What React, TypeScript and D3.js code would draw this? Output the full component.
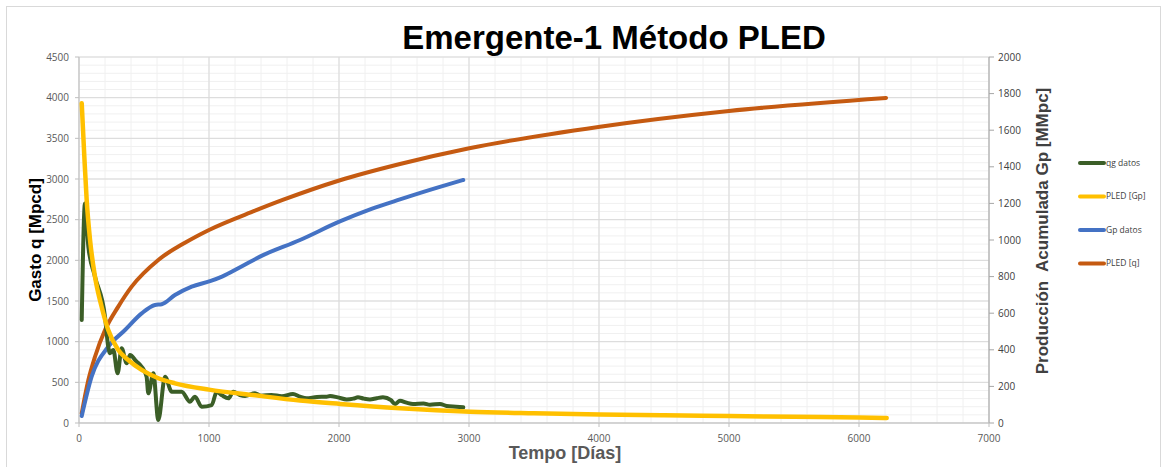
import React from "react";
import * as d3 from "d3";

const W = 1166, H = 467;
const M = { left: 79, right: 989, top: 57, bottom: 423 };

const xTicks = [0, 1000, 2000, 3000, 4000, 5000, 6000, 7000];
const yLeftTicks = [0, 500, 1000, 1500, 2000, 2500, 3000, 3500, 4000, 4500];
const yRightTicks = [0, 200, 400, 600, 800, 1000, 1200, 1400, 1600, 1800, 2000];

// qg datos (left axis, Mpcd)
const qgDays = [21, 46, 72, 123, 200, 225, 238, 264, 297, 328, 367, 392, 440, 482, 520, 533, 572, 610, 662, 713, 790, 854, 892, 944, 1021, 1059, 1100, 1149, 1187, 1238, 1277, 1354, 1400, 1480, 1560, 1646, 1700, 1751, 1830, 1905, 1931, 1990, 2059, 2110, 2146, 2190, 2238, 2290, 2338, 2400, 2431, 2469, 2520, 2569, 2650, 2700, 2777, 2828, 2900, 2956];
const qgVals = [1266, 2700, 2168, 1799, 1307, 938, 857, 897, 611, 918, 734, 836, 760, 692, 569, 365, 611, 37, 569, 385, 385, 262, 323, 200, 221, 385, 340, 303, 385, 344, 332, 365, 335, 345, 330, 356, 323, 303, 320, 323, 332, 315, 290, 300, 316, 300, 290, 305, 316, 280, 234, 274, 250, 234, 240, 225, 234, 209, 200, 193];

// PLED curve on left axis (yellow)
const pledQDays = [21, 41, 59, 85, 123, 174, 225, 302, 379, 482, 610, 738, 1000, 1354, 1700, 2008, 2469, 3008, 3500, 4008, 4500, 5000, 5500, 6000, 6213];
const pledQVals = [3930, 3275, 2742, 2250, 1800, 1430, 1143, 897, 775, 652, 550, 488, 410, 340, 276, 235, 182, 139, 120, 106, 95, 85, 76, 68, 62];

// Gp datos (right axis, MMpc)
const gpDays = [21, 97, 225, 354, 482, 585, 636, 738, 867, 1008, 1100, 1250, 1392, 1700, 2002, 2250, 2469, 2750, 2956];
const gpVals = [38, 253, 417, 508, 599, 645, 649, 699, 745, 775, 800, 855, 909, 1000, 1100, 1170, 1222, 1285, 1328];

// PLED cumulative on right axis (orange)
const pledGpDays = [21, 72, 123, 200, 302, 405, 610, 815, 1000, 1354, 1572, 2002, 2469, 3002, 4008, 5000, 6208];
const pledGpVals = [53, 235, 362, 508, 636, 745, 891, 985, 1055, 1160, 1220, 1325, 1415, 1501, 1619, 1705, 1776];

const legendItems = [
  { label: "qg datos", color: "#3B5E27" },
  { label: "PLED [Gp]", color: "#FFC000" },
  { label: "Gp datos", color: "#4472C4" },
  { label: "PLED [q]", color: "#C55A11" },
];

export default function App() {
  const x = d3.scaleLinear().domain([0, 7000]).range([M.left, M.right]);
  const yL = d3.scaleLinear().domain([0, 4500]).range([M.bottom, M.top]);
  const yR = d3.scaleLinear().domain([0, 2000]).range([M.bottom, M.top]);

  const lineL = d3.line<[number, number]>().x(d => x(d[0])).y(d => yL(d[1])).curve(d3.curveMonotoneX);
  const lineR = d3.line<[number, number]>().x(d => x(d[0])).y(d => yR(d[1])).curve(d3.curveMonotoneX);

  const zip = (a: number[], b: number[]) => a.map((v, i) => [v, b[i]] as [number, number]);

  const minorX = d3.range(0, 7001, 200);
  const minorY = d3.range(0, 4501, 100);
  const font = "'Liberation Sans', Arial, sans-serif";
  const tickFont = "'Open Sans', 'Liberation Sans', sans-serif";

  return (
    <svg width={W} height={H} style={{ position: "absolute", left: 0, top: 0, background: "#fff" }}>
      <rect x={6.5} y={6.5} width={1154} height={470} fill="#fff" stroke="#d9d9d9" />
      {minorX.map(v => (
        <line key={"mx" + v} x1={x(v)} x2={x(v)} y1={M.top} y2={M.bottom} stroke="#f0f0f0" strokeWidth={1} />
      ))}
      {minorY.map(v => (
        <line key={"my" + v} x1={M.left} x2={M.right} y1={yL(v)} y2={yL(v)} stroke="#f0f0f0" strokeWidth={1} />
      ))}
      {xTicks.map(v => (
        <line key={"gx" + v} x1={x(v)} x2={x(v)} y1={M.top} y2={M.bottom} stroke="#d9d9d9" strokeWidth={1} />
      ))}
      {yLeftTicks.map(v => (
        <line key={"gy" + v} x1={M.left} x2={M.right} y1={yL(v)} y2={yL(v)} stroke="#d9d9d9" strokeWidth={1} />
      ))}
      <line x1={M.left} x2={M.left} y1={M.top} y2={M.bottom} stroke="#bfbfbf" />
      <line x1={M.right} x2={M.right} y1={M.top} y2={M.bottom} stroke="#a6a6a6" />
      <line x1={M.left} x2={M.right} y1={M.bottom} y2={M.bottom} stroke="#bfbfbf" />
      {yLeftTicks.map(v => (
        <g key={"tl" + v}>
          <line x1={M.left - 4} x2={M.left} y1={yL(v)} y2={yL(v)} stroke="#bfbfbf" />
          <text x={M.left - 10} y={yL(v)} dy="0.35em" textAnchor="end" fontSize={10} fill="#595959" fontFamily={tickFont}>{v}</text>
        </g>
      ))}
      {yRightTicks.map(v => (
        <g key={"tr" + v}>
          <line x1={M.right} x2={M.right + 5} y1={yR(v)} y2={yR(v)} stroke="#a6a6a6" />
          <text x={M.right + 9} y={yR(v)} dy="0.35em" textAnchor="start" fontSize={10} fill="#404040" fontFamily={tickFont}>{v}</text>
        </g>
      ))}
      {xTicks.map(v => (
        <g key={"tx" + v}>
          <line x1={x(v)} x2={x(v)} y1={M.bottom} y2={M.bottom + 4} stroke="#bfbfbf" />
          <text x={x(v)} y={M.bottom + 15} dy="0.35em" textAnchor="middle" fontSize={10} fill="#595959" fontFamily={tickFont}>{v}</text>
        </g>
      ))}
      <path d={lineR(zip(pledGpDays, pledGpVals)) || ""} fill="none" stroke="#C55A11" strokeWidth={4} strokeLinecap="round" strokeLinejoin="round" />
      <path d={lineR(zip(gpDays, gpVals)) || ""} fill="none" stroke="#4472C4" strokeWidth={4} strokeLinecap="round" strokeLinejoin="round" />
      <path d={lineL(zip(qgDays, qgVals)) || ""} fill="none" stroke="#3B5E27" strokeWidth={4} strokeLinecap="round" strokeLinejoin="round" />
      <path d={lineL(zip(pledQDays, pledQVals)) || ""} fill="none" stroke="#FFC000" strokeWidth={4.5} strokeLinecap="round" strokeLinejoin="round" />
      <text x={614} y={49} textAnchor="middle" fontSize={33} fontWeight="bold" fontFamily={font} fill="#000">Emergente-1 Método PLED</text>
      <text transform={`translate(41,240) rotate(-90)`} textAnchor="middle" fontSize={17} fontWeight="bold" fontFamily={font} fill="#000">Gasto q [Mpcd]</text>
      <text transform={`translate(1048,231) rotate(-90)`} textAnchor="middle" fontSize={17} fontWeight="bold" fontFamily={font} fill="#404040" style={{ whiteSpace: "pre" }}>Producción  Acumulada Gp [MMpc]</text>
      <text x={565} y={459} textAnchor="middle" fontSize={18} fontWeight="bold" fontFamily={font} fill="#595959">Tempo [Días]</text>
      {legendItems.map((it, i) => (
        <g key={it.label}>
          <line x1={1080} x2={1104} y1={163 + i * 33.5} y2={163 + i * 33.5} stroke={it.color} strokeWidth={4} strokeLinecap="round" />
          <text x={1106} y={163 + i * 33.5} dy="0.35em" fontSize={8.5} fill="#404040" fontFamily={tickFont}>{it.label}</text>
        </g>
      ))}
    </svg>
  );
}
